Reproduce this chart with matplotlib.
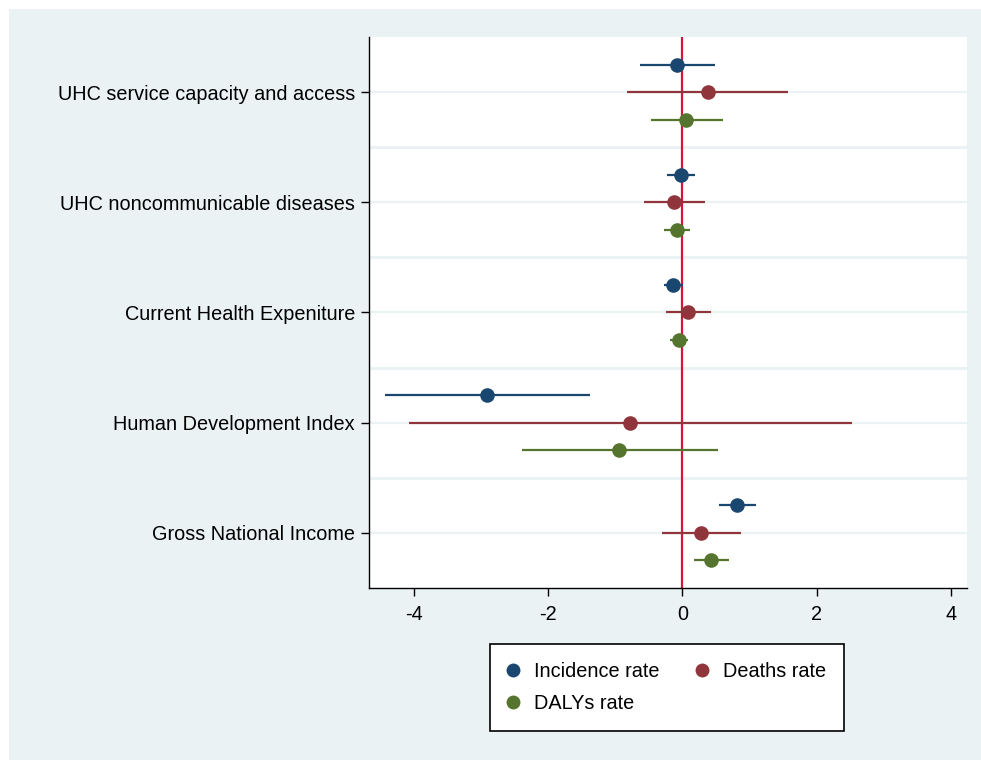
import matplotlib
matplotlib.use("Agg")
import matplotlib.pyplot as plt
from matplotlib.patches import Rectangle
from matplotlib.lines import Line2D

plt.rcParams['font.family'] = ['Liberation Sans', 'DejaVu Sans']

categories = ["UHC service capacity and access", "UHC noncommunicable diseases",
              "Current Health Expeniture", "Human Development Index",
              "Gross National Income"]
series = ["Incidence rate", "Deaths rate", "DALYs rate"]

# point estimate, lower CI, upper CI per category
inc_est = [-0.08, -0.02, -0.14, -2.91, 0.82]
inc_lo = [-0.63, -0.23, -0.28, -4.43, 0.54]
inc_hi = [0.48, 0.18, 0.01, -1.38, 1.09]

dth_est = [0.38, -0.13, 0.09, -0.78, 0.28]
dth_lo = [-0.82, -0.58, -0.24, -4.07, -0.31]
dth_hi = [1.58, 0.33, 0.42, 2.52, 0.88]

daly_est = [0.06, -0.08, -0.05, -0.94, 0.43]
daly_lo = [-0.47, -0.28, -0.19, -2.39, 0.17]
daly_hi = [0.60, 0.12, 0.09, 0.53, 0.70]

xticks = [-4, -2, 0, 2, 4]

colors = ["#1a476f", "#90353b", "#55752f"]
offsets = [-0.25, 0.0, 0.25]
bg = "#eaf2f3"
fs = 14.3

fig = plt.figure(figsize=(9.81, 7.6), dpi=100, facecolor="white")
fig.patches.append(Rectangle((9 / 981, 0), 1, 751 / 760, transform=fig.transFigure,
                             facecolor=bg, edgecolor="none", zorder=-10))
ax = fig.add_axes([369 / 981, 172 / 760, 598 / 981, 551 / 760])
ax.set_facecolor("white")

ys = list(range(len(categories)))
for g in [0.5, 1.5, 2.5, 3.5]:
    ax.axhline(g, color=bg, lw=2.2, zorder=0)
for y in ys:
    ax.axhline(y, color=bg, lw=1.6, zorder=0)

ax.axvline(0, color="#d7143c", lw=1.6, zorder=1)

data = [(inc_est, inc_lo, inc_hi), (dth_est, dth_lo, dth_hi), (daly_est, daly_lo, daly_hi)]
for (est, lo, hi), col, off in zip(data, colors, offsets):
    yy = [y + off for y in ys]
    ax.hlines(yy, lo, hi, color=col, lw=1.6, zorder=2)
    ax.plot(est, yy, "o", color=col, ms=10.5, zorder=3, markeredgewidth=0)

ax.set_ylim(4.5, -0.5)
ax.set_xlim(-4.67, 4.24)
ax.set_yticks(ys)
ax.set_yticklabels(categories, fontsize=fs)
ax.set_xticks(xticks)
ax.set_xticklabels([str(t) for t in xticks], fontsize=fs)
ax.tick_params(axis="y", length=6, width=1, pad=4)
ax.tick_params(axis="x", length=6, width=1, pad=6)
for s in ["top", "right"]:
    ax.spines[s].set_visible(False)
for s in ["left", "bottom"]:
    ax.spines[s].set_linewidth(1)
    ax.spines[s].set_color("black")

handles = [Line2D([], [], ls="none", marker="o", ms=10, color=c, markeredgewidth=0) for c in colors]
order = [0, 2, 1]
leg = fig.legend([handles[i] for i in order], [series[i] for i in order],
                 ncol=2, loc="upper left", bbox_to_anchor=(490 / 981, 116 / 760),
                 borderaxespad=0, fontsize=fs, frameon=True, fancybox=False,
                 edgecolor="black", framealpha=1, facecolor="white",
                 handletextpad=0.8, columnspacing=1.9, borderpad=0.9, labelspacing=0.65,
                 handlelength=0.5)
leg.get_frame().set_linewidth(1.2)

fig.savefig("out.png", dpi=100, facecolor="white")
